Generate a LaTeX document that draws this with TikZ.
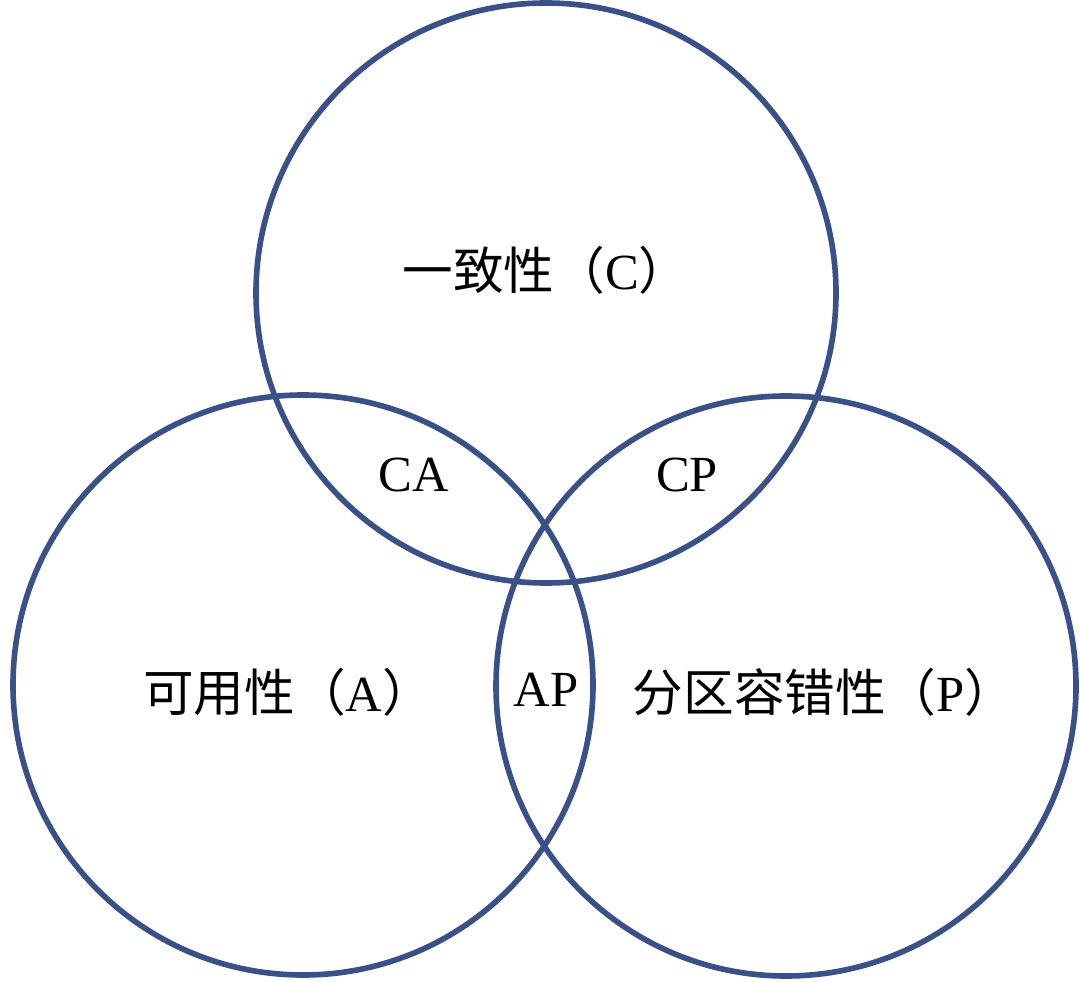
\documentclass[tikz,border=0pt]{standalone}
\usepackage{fontspec}
\setmainfont{Liberation Serif}
\newfontfamily\cjk{Noto Sans CJK SC}
\usepackage{tikz}
\usetikzlibrary{positioning}
\definecolor{ringblue}{HTML}{3A5089}

\begin{document}
\begin{tikzpicture}[ring/.style={draw=ringblue, line width=1.6pt, circle, minimum size=5.8cm, inner sep=0pt},
  lab/.style={font=\fontsize{14.4}{16}\selectfont, inner sep=0pt}]

  \useasboundingbox (0,0) rectangle (10.8,9.81);

  % Define the three circles
  \node[ring] (C) at (5.46, 6.88) {};
  \node[ring] (A) at (3.03, 2.96) {};
  \node[ring] (P) at (7.86, 2.95) {};

  % Labels of the circles and their overlaps
  \node[lab] (Clab) at (5.46, 7.11) {{\cjk 一致性（}C{\cjk ）}};
  \node[lab] (Alab) at (2.88, 2.89) {{\cjk 可用性（}A{\cjk ）}};
  \node[lab] (Plab) at (8.24, 2.89) {{\cjk 分区容错性（}P{\cjk ）}};
  \node[lab] (CA) at (4.14, 5.06) {CA};
  \node[lab] (CP) at (6.87, 5.06) {CP};
  \node[lab] (AP) at (5.46, 2.91) {AP};
\end{tikzpicture}
\end{document}
